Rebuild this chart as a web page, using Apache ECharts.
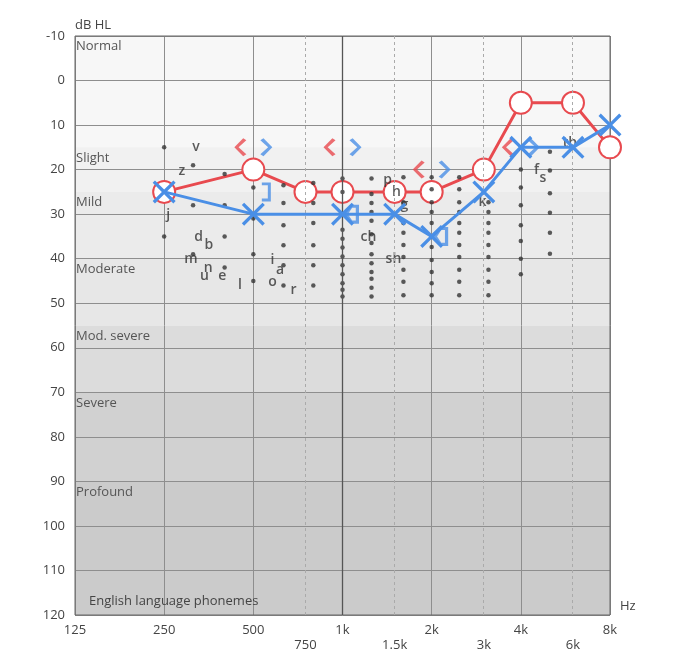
<!DOCTYPE html>
<html><head><meta charset="utf-8">
<script src="https://cdn.jsdelivr.net/npm/echarts@6/dist/echarts.min.js"></script>
<style>html,body{margin:0;padding:0;background:#fff}#c{width:679px;height:660px}</style>
</head><body><div id="c"></div>
<script>
// ---- data ----
const freqTicks = [125, 250, 500, 1000, 2000, 4000, 8000];
const freqTickLabels = ['125', '250', '500', '1k', '2k', '4k', '8k'];
const midFreqs = [750, 1500, 3000, 6000];
const midFreqLabels = ['750', '1.5k', '3k', '6k'];

const bandNames = ['Normal', 'Slight', 'Mild', 'Moderate', 'Mod. severe', 'Severe', 'Profound'];
const bandFrom = [-10, 15, 25, 40, 55, 70, 90];
const bandTo = [15, 25, 40, 55, 70, 90, 120];

const rightAirFreq = [250, 500, 750, 1000, 1500, 2000, 3000, 4000, 6000, 8000];
const rightAirDb = [25, 20, 25, 25, 25, 25, 20, 5, 5, 15];
const leftAirFreq = [250, 500, 1000, 1500, 2000, 3000, 4000, 6000, 8000];
const leftAirDb = [25, 30, 30, 30, 35, 25, 15, 15, 10];
const rightBoneFreq = [500, 1000, 2000, 4000];
const rightBoneDb = [15, 15, 20, 15];
const leftBoneFreq = [500, 1000, 2000, 4000];
const leftBoneDb = [15, 15, 20, 15];
const leftMaskedBoneFreq = [500];
const leftMaskedBoneDb = [25];
const leftFlagFreq = [1000, 2000];
const leftFlagDb = [30, 35];

const phonemeLetters = ['v', 'z', 'j', 'd', 'b', 'm', 'n', 'u', 'e', 'l', 'i', 'a', 'o', 'r', 'ch', 'sh', 'p', 'h', 'g', 'k', 'f', 's', 'th'];
const phonemeFreq = [320, 287, 258, 327, 354, 308, 352, 342, 393, 451, 580, 616, 580, 683, 1224, 1486, 1419, 1521, 1618, 2972, 4517, 4745, 5855];
const phonemeDb = [15, 20.3, 30.2, 35.1, 37, 40, 42, 44, 44, 46, 40.3, 42.5, 45.2, 47, 35.1, 40, 22.3, 25, 28, 27.3, 20.1, 21.9, 14];

const dotFreqs = [250, 313, 400, 500, 632, 797, 1000, 1253, 1606, 2000, 2478, 3110, 4000, 5015];
const dotLevels = [
  [15, 35],
  [19, 28, 39],
  [21, 28, 35, 42],
  [24, 31, 39, 45],
  [23.5, 27.5, 32.5, 37, 41.5, 46],
  [23, 27.5, 32, 37, 41.5, 46],
  [22, 25, 30, 33.5, 35.5, 37.5, 39.5, 41.5, 43.5, 45.5, 47, 48.5],
  [22, 25.5, 27.5, 29.5, 31.5, 34.5, 36.5, 39, 41, 43, 44.5, 46.5, 48.5],
  [21.7, 27.3, 32, 34.2, 36.9, 39.6, 42.5, 45.2, 48.2],
  [21.7, 24.4, 27.3, 29.5, 32, 35.1, 37.4, 40.3, 43, 45.5, 48.2],
  [21.7, 24.4, 27.3, 29.5, 32, 34.2, 36.9, 39.6, 42.5, 45.2, 48.2],
  [27.3, 29.5, 32, 34.2, 36.9, 39.6, 42.5, 45.2, 48.2],
  [20, 24, 28, 32.5, 36, 40, 43.5],
  [16, 20.2, 25.3, 29.7, 34.2, 38.9]
];

// ---- styles ----
const RED = '#e84a4f';
const BLUE = '#4a8fe6';
const GRID = '#8e8e8e';
const bandColors = ['#f7f7f7', '#f1f1f1', '#ebebeb', '#e7e7e7', '#dcdcdc', '#d1d1d1', '#cbcbcb'];
const FONT = 'Open Sans';

const oct = f => Math.log2(f / 125);
const pairs = (fs, ds) => fs.map((f, i) => [oct(f), ds[i]]);

const SYM_X = 'path://M0,2 L2,0 L10,8 L18,0 L20,2 L12,10 L20,18 L18,20 L10,12 L2,20 L0,18 L8,10 Z';
const SYM_LT = 'path://M8,0 L10.8,2.2 L3.8,10 L10.8,17.8 L8,20 L0,10 Z';
const SYM_GT = 'path://M2.8,0 L0,2.2 L7,10 L0,17.8 L2.8,20 L10.8,10 Z';
const SYM_RB = 'path://M0,0 L9,0 L9,20 L0,20 L0,17 L6,17 L6,3 L0,3 Z';
const SYM_FLAG = 'path://M0,9 L6,0 L14,0 L14,18 L6,18 Z M3.6,9 L7.6,15 L11,15 L11,3 L7.6,3 Z';

const dotData = [];
dotFreqs.forEach((f, i) => dotLevels[i].forEach(d => dotData.push([oct(f), d])));

const chart = echarts.init(document.getElementById('c'));
chart.setOption({
  animation: false,
  textStyle: { fontFamily: FONT },
  grid: { left: 75, right: 69, top: 36, bottom: 45, show: true, borderColor: '#666', borderWidth: 1, backgroundColor: 'transparent', z: 3 },
  xAxis: [{
    type: 'value', min: 0, max: 6, interval: 1, z: 2,
    name: 'Hz', nameLocation: 'end', nameGap: 10,
    nameTextStyle: { color: '#444', fontSize: 13, fontFamily: FONT, verticalAlign: 'bottom', padding: [0, 0, 2, 0] },
    axisLine: { show: false, onZero: false }, axisTick: { show: false },
    axisLabel: { color: '#444', fontSize: 13, fontFamily: FONT, margin: 9, formatter: v => freqTickLabels[Math.round(v)] },
    splitLine: { show: true, lineStyle: { color: GRID, width: 1 } }
  }, {
    type: 'value', min: 0, max: 6, position: 'bottom', z: 2,
    axisLine: { show: false, onZero: false }, axisTick: { show: false }, splitLine: { show: false },
    axisLabel: {
      color: '#444', fontSize: 13, fontFamily: FONT, margin: 24,
      customValues: midFreqs.map(oct),
      formatter: v => { const i = midFreqs.findIndex(f => Math.abs(oct(f) - v) < 1e-6); return i >= 0 ? midFreqLabels[i] : ''; }
    }
  }],
  yAxis: {
    type: 'value', inverse: true, min: -10, max: 120, interval: 10, z: 2,
    name: 'dB HL', nameLocation: 'start', nameGap: 4,
    nameTextStyle: { color: '#444', fontSize: 13, fontFamily: FONT, align: 'left' },
    axisLine: { show: false, onZero: false }, axisTick: { show: false },
    axisLabel: { color: '#444', fontSize: 13, fontFamily: FONT, margin: 10 },
    splitLine: { show: true, lineStyle: { color: GRID, width: 1 } }
  },
  series: [
    {
      type: 'line', data: [], silent: true, z: 1,
      markArea: {
        silent: true,
        label: { show: true, position: 'insideTopLeft', distance: 4, offset: [-3, 0], color: '#555', fontSize: 13, fontFamily: FONT },
        data: bandNames.map((n, i) => [{ name: n, yAxis: bandFrom[i], itemStyle: { color: bandColors[i] } }, { yAxis: bandTo[i] }])
      }
    },
    {
      type: 'line', data: [], silent: true, z: 2,
      markLine: {
        silent: true, symbol: 'none', label: { show: false },
        data: midFreqs.map(f => ({ xAxis: oct(f), lineStyle: { color: '#aaa', type: [3, 3], width: 1 } }))
          .concat([{ xAxis: oct(1000), lineStyle: { color: '#555', type: 'solid', width: 1.3 } }])
      }
    },
    {
      name: 'Right air', type: 'line', z: 3, data: pairs(rightAirFreq, rightAirDb),
      symbol: 'emptyCircle', symbolSize: 22,
      lineStyle: { color: RED, width: 3 }, itemStyle: { color: RED, borderWidth: 3 }
    },
    {
      name: 'dots', type: 'scatter', z: 4, silent: true, data: dotData,
      symbol: 'circle', symbolSize: 4.5, itemStyle: { color: '#333' }
    },
    {
      name: 'phonemes', type: 'scatter', z: 4, silent: true, symbolSize: 1,
      itemStyle: { color: 'rgba(0,0,0,0)' },
      label: { show: true, position: 'inside', formatter: '{b}', color: '#333', fontSize: 14, fontWeight: 600, fontFamily: FONT },
      data: phonemeLetters.map((l, i) => ({ name: l, value: [oct(phonemeFreq[i]), phonemeDb[i]] }))
    },
    {
      name: 'Right bone', type: 'scatter', z: 5, data: pairs(rightBoneFreq, rightBoneDb),
      symbol: SYM_LT, symbolSize: [12, 18], symbolOffset: [-13, 0], itemStyle: { color: RED }
    },
    {
      name: 'Left bone', type: 'scatter', z: 5, data: pairs(leftBoneFreq, leftBoneDb),
      symbol: SYM_GT, symbolSize: [12, 18], symbolOffset: [13, 0], itemStyle: { color: BLUE }
    },
    {
      name: 'Left masked bone', type: 'scatter', z: 5, data: pairs(leftMaskedBoneFreq, leftMaskedBoneDb),
      symbol: SYM_RB, symbolSize: [9, 19], symbolOffset: [13, 0], itemStyle: { color: BLUE }
    },
    {
      name: 'Left flag', type: 'scatter', z: 5, data: pairs(leftFlagFreq, leftFlagDb),
      symbol: SYM_FLAG, symbolSize: [15, 19], symbolOffset: [9, 0], itemStyle: { color: BLUE }
    },
    {
      name: 'Left air', type: 'line', z: 6, data: pairs(leftAirFreq, leftAirDb),
      symbol: SYM_X, symbolSize: 23, symbolKeepAspect: true,
      lineStyle: { color: BLUE, width: 3 }, itemStyle: { color: BLUE }
    }
  ],
  graphic: [{
    type: 'text', left: 89, top: 595, z: 10, silent: true,
    style: { text: 'English language phonemes', fill: '#444', fontSize: 13, fontFamily: FONT }
  }]
});
</script>
</body></html>
